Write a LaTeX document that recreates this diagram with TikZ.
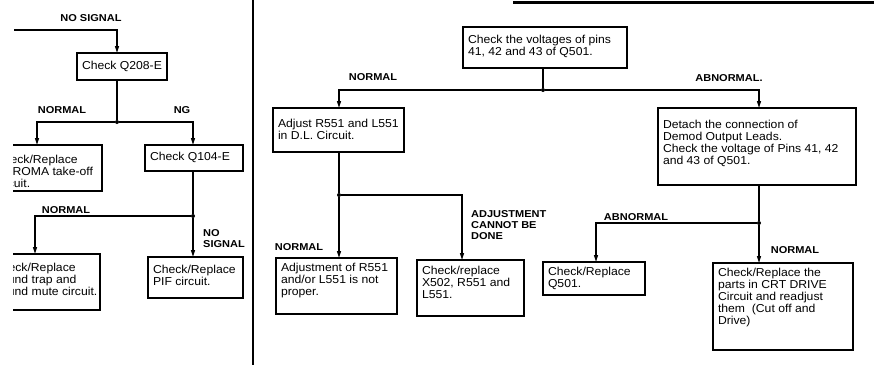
\documentclass[tikz,border=0pt]{standalone}
\usepackage{fontspec}
\setmainfont{Liberation Sans}
\newfontfamily\boxfont[FakeStretch=1.06]{Liberation Sans}
\newfontfamily\lblfont[FakeStretch=1.1]{Liberation Sans}
\usetikzlibrary{arrows.meta}
\newcommand\bx[4]{\parbox[c][#2pt][t]{#1pt}{\boxfont\fontsize{11.5}{11.7}\selectfont\vspace*{\dimexpr#3pt-4.5pt\relax}\hspace*{5pt}\begin{tabular}[t]{@{}l@{}}#4\end{tabular}}}
\tikzset{
  box/.style={draw, line width=1.2pt, inner sep=0pt, outer sep=0pt, anchor=north west},
  conn/.style={line width=1.2pt},
  arr/.style={line width=1.2pt, -{Triangle[length=7pt,width=4pt]}},
  lbl/.style={font=\lblfont\bfseries\fontsize{10}{11}\selectfont, inner sep=0pt, align=left},
  dot/.style={circle, fill, inner sep=0pt, minimum size=4pt}
}
\begin{document}
\begin{tikzpicture}[x=1pt, y=-1pt]
\useasboundingbox (0,0) rectangle (874,365);
% frame lines
\draw[line width=2.5pt] (253,0) -- (253,365);
\draw[line width=3pt] (513,2) -- (874,2);
% ---------- left panel ----------
\node[box] (A) at (77,53) {\bx{90}{27}{13}{Check Q208-E}};
\begin{scope}
\clip (13,0) rectangle (253,365);
\node[box] (B) at (-10,145) {\bx{112}{46}{15}{Check/Replace\\CHROMA take-off\\circuit.}};
\node[box] (D) at (-12,254) {\bx{112}{56}{14}{Check/Replace\\Sound trap and\\Sound mute circuit.}};
\end{scope}
\node[box] (C) at (145,145) {\bx{98}{26}{12}{Check Q104-E}};
\node[box] (E) at (148,257) {\bx{95}{41}{13}{Check/Replace\\PIF circuit.}};
\coordinate (s0) at (14,30);
\coordinate (xA) at (117,0);
\coordinate (xB) at (37,0);
\coordinate (xC) at (193,0);
\coordinate (xD) at (35,0);
\node[dot] (j1) at (117,122) {};
\node[dot] (j2) at (193,216) {};
\draw[arr] (s0) -| (xA |- A.north);
\draw[conn] (xA |- A.south) -- (j1);
\draw[arr] (j1) -| (xB |- B.north);
\draw[arr] (j1) -| (xC |- C.north);
\draw[conn] (xC |- C.south) -- (j2);
\draw[arr] (j2) -| (xD |- D.north);
\draw[arr] (j2) -- (xC |- E.north);
\node[lbl] (l1) at (91,18) {NO SIGNAL};
\node[lbl] (l2) at (62,110) {NORMAL};
\node[lbl] (l3) at (182,110) {NG};
\node[lbl] (l4) at (66,210) {NORMAL};
\node[lbl, anchor=west] (l5) at (203,238.5) {NO\\SIGNAL};
% ---------- right panel ----------
\node[box] (F) at (463,27) {\bx{164}{41}{13}{Check the voltages of pins\\41, 42 and 43 of Q501.}};
\node[box] (G) at (273,108) {\bx{131}{44}{16}{Adjust R551 and L551\\in D.L. Circuit.}};
\node[box] (H) at (658,108) {\bx{198}{77}{17}{Detach the connection of\\Demod Output Leads.\\Check the voltage of Pins 41, 42\\and 43 of Q501.}};
\node[box] (I) at (276,258) {\bx{121}{56}{10}{Adjustment of R551\\and/or L551 is not\\proper.}};
\node[box] (J) at (417,260) {\bx{107}{56}{11}{Check/replace\\X502, R551 and\\L551.}};
\node[box] (K) at (543,262) {\bx{102}{33}{10}{Check/Replace\\Q501.}};
\node[box] (L) at (713,263) {\bx{140}{87}{10}{Check/Replace the\\parts in CRT DRIVE\\Circuit and readjust\\them\ \ (Cut off and\\Drive)}};
\coordinate (xF) at (543,0);
\coordinate (xG) at (339,0);
\coordinate (xH) at (759,0);
\coordinate (xJ) at (462,0);
\coordinate (xK) at (596,0);
\node[dot] (j3) at (543,90) {};
\node[dot] (j4) at (339,195) {};
\node[dot] (j5) at (759,223) {};
\draw[conn] (xF |- F.south) -- (j3);
\draw[arr] (j3) -| (xG |- G.north);
\draw[arr] (j3) -| (xH |- H.north);
\draw[conn] (xG |- G.south) -- (j4);
\draw[arr] (j4) -- (xG |- I.north);
\draw[arr] (j4) -| (xJ |- J.north);
\draw[conn] (xH |- H.south) -- (j5);
\draw[arr] (j5) -| (xK |- K.north);
\draw[arr] (j5) -- (xH |- L.north);
\node[lbl] (r1) at (373,77) {NORMAL};
\node[lbl] (r2) at (729,78) {ABNORMAL.};
\node[lbl] (r3) at (299,247) {NORMAL};
\node[lbl, anchor=west] (r4) at (471,225) {ADJUSTMENT\\CANNOT BE\\DONE};
\node[lbl] (r5) at (636,217) {ABNORMAL};
\node[lbl] (r6) at (795,250) {NORMAL};
\end{tikzpicture}
\end{document}
